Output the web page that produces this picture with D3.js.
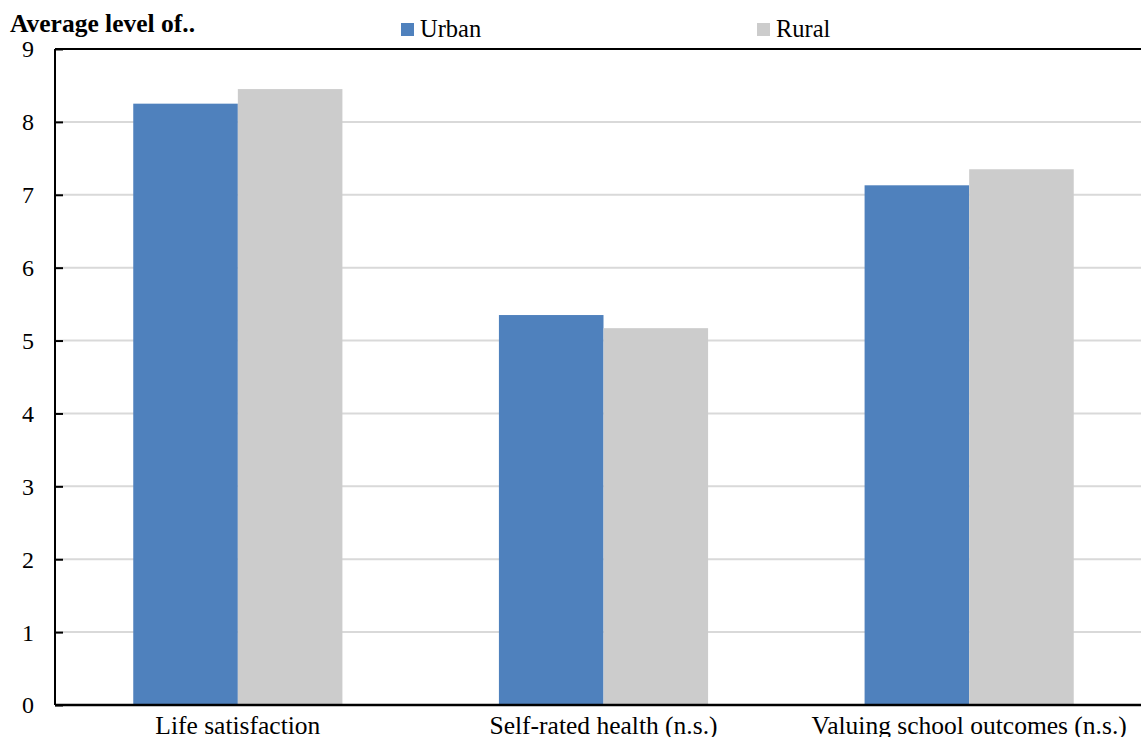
<!DOCTYPE html>
<html>
<head>
<meta charset="utf-8">
<script src="https://cdn.jsdelivr.net/npm/d3@7"></script>
<style>
  body { margin: 0; background: #fff; }
  svg text { font-family: "Liberation Serif", "Times New Roman", Times, serif; fill: #000; }
</style>
</head>
<body>
<div id="chart"></div>
<script>
var categories = ["Life satisfaction", "Self-rated health (n.s.)", "Valuing school outcomes (n.s.)"]
var seriesNames = ["Urban", "Rural"]
var urban = [8.25, 5.35, 7.13]
var rural = [8.45, 5.17, 7.35]
var yTicks = [0, 1, 2, 3, 4, 5, 6, 7, 8, 9]
var colors = ["#4f81bd", "#cccccc"]

var W = 1141, H = 737
var margin = { top: 49, left: 55, bottom: 32, right: -11 }
var width = W - margin.left - margin.right,
    height = H - margin.top - margin.bottom

var svg = d3.select("#chart").append("svg")
  .attr("width", W).attr("height", H)

var g = svg.append("g")
  .attr("transform", "translate(" + margin.left + "," + margin.top + ")")

var x0 = d3.scaleBand()
  .domain(categories)
  .range([0, width])
  .paddingInner(0.428)
  .paddingOuter(0.214)

var x1 = d3.scaleBand()
  .domain(seriesNames)
  .range([0, x0.bandwidth()])

var y = d3.scaleLinear()
  .domain([0, 9])
  .range([height, 0])

// gridlines
g.append("g").selectAll("line")
  .data(yTicks.filter(d => d > 0 && d < 9))
  .enter().append("line")
    .attr("x1", 0).attr("x2", width)
    .attr("y1", d => y(d)).attr("y2", d => y(d))
    .attr("stroke", "#d9d9d9").attr("stroke-width", 2)

// bars
var data = categories.map((c, i) => ({ cat: c, vals: [urban[i], rural[i]] }))
var groups = g.selectAll(".grp").data(data)
  .enter().append("g")
    .attr("class", "grp")
    .attr("transform", d => "translate(" + x0(d.cat) + ",0)")

groups.selectAll("rect")
  .data(d => d.vals.map((v, j) => ({ name: seriesNames[j], v: v, j: j })))
  .enter().append("rect")
    .attr("x", d => x1(d.name))
    .attr("width", x1.bandwidth())
    .attr("y", d => y(d.v))
    .attr("height", d => height - y(d.v))
    .attr("fill", d => colors[d.j])

// top border
g.append("line")
  .attr("x1", 0).attr("x2", width)
  .attr("y1", 0).attr("y2", 0)
  .attr("stroke", "#000").attr("stroke-width", 2)

// y axis (ticks pointing inward)
var yAxis = g.append("g")
  .call(d3.axisRight(y).tickValues(yTicks).tickSize(8).tickFormat(""))
yAxis.select(".domain").attr("stroke-width", 2).attr("d", "M0," + height + "V0")
yAxis.selectAll(".tick line").attr("stroke-width", 2)

g.append("g").selectAll("text")
  .data(yTicks)
  .enter().append("text")
    .attr("x", -21)
    .attr("y", d => y(d))
    .attr("dy", "0.35em")
    .attr("text-anchor", "end")
    .style("font-size", "24px")
    .text(d => d)

// x axis
g.append("line")
  .attr("x1", 0).attr("x2", width)
  .attr("y1", height).attr("y2", height)
  .attr("stroke", "#000").attr("stroke-width", 2.5)

g.append("g").selectAll("text")
  .data(categories)
  .enter().append("text")
    .attr("x", d => x0(d) + x0.bandwidth() / 2)
    .attr("y", height + 29)
    .attr("text-anchor", "middle")
    .style("font-size", "25.5px")
    .text(d => d)

// title
svg.append("text")
  .attr("x", 10).attr("y", 32)
  .style("font-size", "25.5px")
  .style("font-weight", "bold")
  .text("Average level of..")

// legend
var legendX = [401, 757]
var legend = svg.selectAll(".leg").data(seriesNames)
  .enter().append("g")
    .attr("class", "leg")
    .attr("transform", (d, i) => "translate(" + legendX[i] + ",23)")
legend.append("rect")
  .attr("width", 13).attr("height", 13)
  .attr("fill", (d, i) => colors[i])
legend.append("text")
  .attr("x", 19).attr("y", 14)
  .style("font-size", "24.5px")
  .text(d => d)
</script>
</body>
</html>
